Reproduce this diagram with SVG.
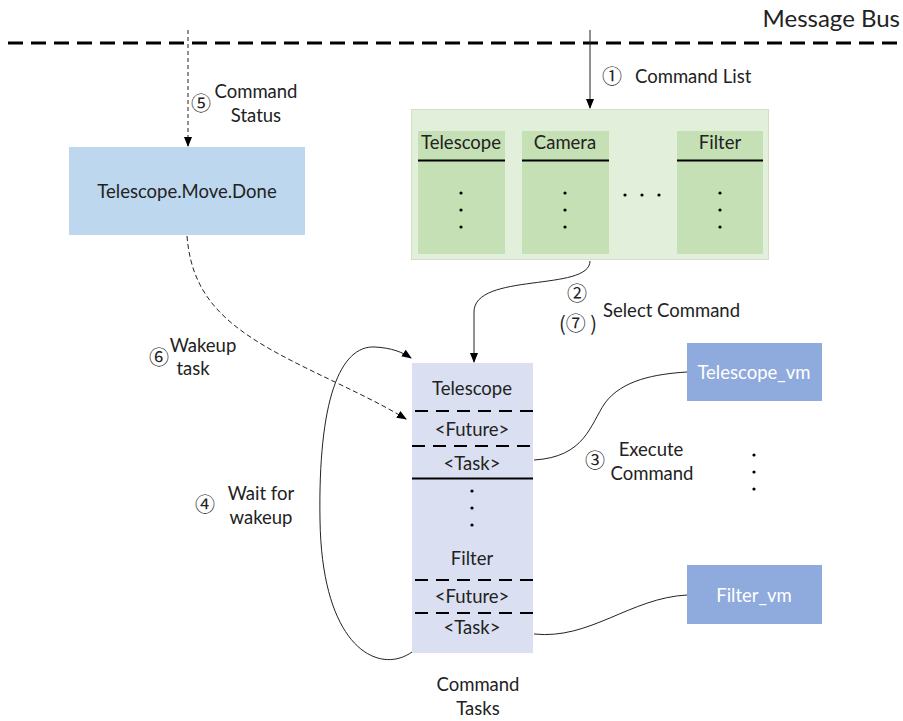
<svg xmlns="http://www.w3.org/2000/svg" width="903" height="721" viewBox="0 0 903 721">
<defs>
<marker id="ah" markerWidth="10" markerHeight="10" refX="9" refY="5" orient="auto" markerUnits="userSpaceOnUse">
<path d="M0,1 L10,5 L0,9 Z" fill="#000"/>
</marker>
</defs>
<style>
text{font-family:Lato,"Liberation Sans",sans-serif;font-size:18.5px;fill:#222;}
.c{font-family:"Noto Sans CJK SC","DejaVu Sans",sans-serif;font-size:20px;}
.m{text-anchor:middle;}
.w{fill:#fff;}
.dash{stroke:#000;stroke-width:2;stroke-dasharray:13,8;fill:none;}
.conn{fill:none;stroke:#222;stroke-width:1;}
.dot{fill:#000;}
</style>
<rect width="903" height="721" fill="#fff"/>
<g id="bus">
<line x1="8" y1="43" x2="903" y2="43" stroke="#000" stroke-width="3" stroke-dasharray="15,8"/>
<text x="900" y="27" style="font-size:24px;text-anchor:end">Message Bus</text>
</g>
<g id="connectors">
<line x1="188" y1="30" x2="188" y2="146" class="conn" stroke-dasharray="4,3" marker-end="url(#ah)"/>
<line x1="590" y1="30" x2="590" y2="108" class="conn" marker-end="url(#ah)"/>
<path d="M590,261 C590,292 474,272 474,312 L474,362" class="conn" marker-end="url(#ah)"/>
<path d="M187,236 C192,300 230,330 300,365 C340,385 375,400 406,419" class="conn" stroke-dasharray="5,3" marker-end="url(#ah)"/>
<path d="M412,652 C380,675 322,650 320,520 C318,400 340,345 375,347 C392,348 402,352 411,358" class="conn" marker-end="url(#ah)"/>
<path d="M534,460 C585,457 590,425 605,403 C622,380 655,374 687,372" class="conn"/>
<path d="M534,634 C590,640 630,598 687,595" class="conn"/>
</g>
<g id="status">
<rect x="69" y="147" width="236" height="88" fill="#BDD7EE"/>
<text x="187" y="198" class="m">Telescope.Move.Done</text>
</g>
<g id="commandlist">
<rect x="411.5" y="109.5" width="357" height="150" fill="#E2EFDA" stroke="#D0E0C8"/>
<rect x="418" y="131" width="87" height="123" fill="#C5E0B4"/>
<rect x="522" y="131" width="87" height="123" fill="#C5E0B4"/>
<rect x="677" y="131" width="86" height="123" fill="#C5E0B4"/>
<line x1="418" y1="160.5" x2="505" y2="160.5" stroke="#000" stroke-width="2"/>
<line x1="522" y1="160.5" x2="609" y2="160.5" stroke="#000" stroke-width="2"/>
<line x1="677" y1="160.5" x2="763" y2="160.5" stroke="#000" stroke-width="2"/>
<text x="461" y="149" class="m">Telescope</text>
<text x="565" y="149" class="m">Camera</text>
<text x="720" y="149" class="m">Filter</text>
<circle cx="461" cy="193" r="1.6" class="dot"/><circle cx="461" cy="210" r="1.6" class="dot"/><circle cx="461" cy="227" r="1.6" class="dot"/>
<circle cx="565" cy="193" r="1.6" class="dot"/><circle cx="565" cy="210" r="1.6" class="dot"/><circle cx="565" cy="227" r="1.6" class="dot"/>
<circle cx="720" cy="193" r="1.6" class="dot"/><circle cx="720" cy="210" r="1.6" class="dot"/><circle cx="720" cy="227" r="1.6" class="dot"/>
<circle cx="625" cy="195" r="1.6" class="dot"/><circle cx="642" cy="195" r="1.6" class="dot"/><circle cx="659" cy="195" r="1.6" class="dot"/>
</g>
<g id="tasks">
<rect x="412" y="363" width="121" height="290" fill="#DAE0F2"/>
<line x1="415" y1="411" x2="533" y2="411" class="dash"/>
<line x1="412" y1="446" x2="530" y2="446" class="dash"/>
<line x1="412" y1="478.5" x2="533" y2="478.5" stroke="#000" stroke-width="2"/>
<line x1="415" y1="580" x2="533" y2="580" class="dash"/>
<line x1="415" y1="613" x2="533" y2="613" class="dash"/>
<text x="472" y="395" class="m">Telescope</text>
<text x="472" y="436" class="m">&lt;Future&gt;</text>
<text x="472" y="470" class="m">&lt;Task&gt;</text>
<circle cx="472" cy="491" r="1.6" class="dot"/><circle cx="472" cy="508" r="1.6" class="dot"/><circle cx="472" cy="525" r="1.6" class="dot"/>
<text x="472" y="565" class="m">Filter</text>
<text x="472" y="603" class="m">&lt;Future&gt;</text>
<text x="472" y="634" class="m">&lt;Task&gt;</text>
<text x="478" y="691" class="m">Command</text>
<text x="478" y="715" class="m">Tasks</text>
</g>
<g id="telescope_vm">
<rect x="687" y="343" width="135" height="58" fill="#8FAADC"/>
<text x="754" y="379" class="m w">Telescope_vm</text>
</g>
<g id="filter_vm">
<rect x="687" y="565" width="135" height="59" fill="#8FAADC"/>
<text x="754" y="602" class="m w">Filter_vm</text>
</g>
<g id="vmdots">
<circle cx="754" cy="455" r="1.6" class="dot"/><circle cx="754" cy="472" r="1.6" class="dot"/><circle cx="754" cy="489" r="1.6" class="dot"/>
</g>
<g id="labels">
<text x="612" y="84" class="c m">①</text>
<text x="635" y="83">Command List</text>
<text x="201" y="111" class="c m">⑤</text>
<text x="256" y="98" class="m">Command</text>
<text x="256" y="122" class="m">Status</text>
<text x="577" y="301" class="c m">②</text>
<text x="578" y="331" class="c m">(⑦ )</text>
<text x="603" y="317">Select Command</text>
<text x="159" y="365" class="c m">⑥</text>
<text x="203" y="352" class="m">Wakeup</text>
<text x="193" y="375" class="m">task</text>
<text x="595" y="468" class="c m">③</text>
<text x="651" y="456" class="m">Execute</text>
<text x="652" y="480" class="m">Command</text>
<text x="205" y="512" class="c m">④</text>
<text x="261" y="500" class="m">Wait for</text>
<text x="261" y="524" class="m">wakeup</text>
</g>
</svg>
